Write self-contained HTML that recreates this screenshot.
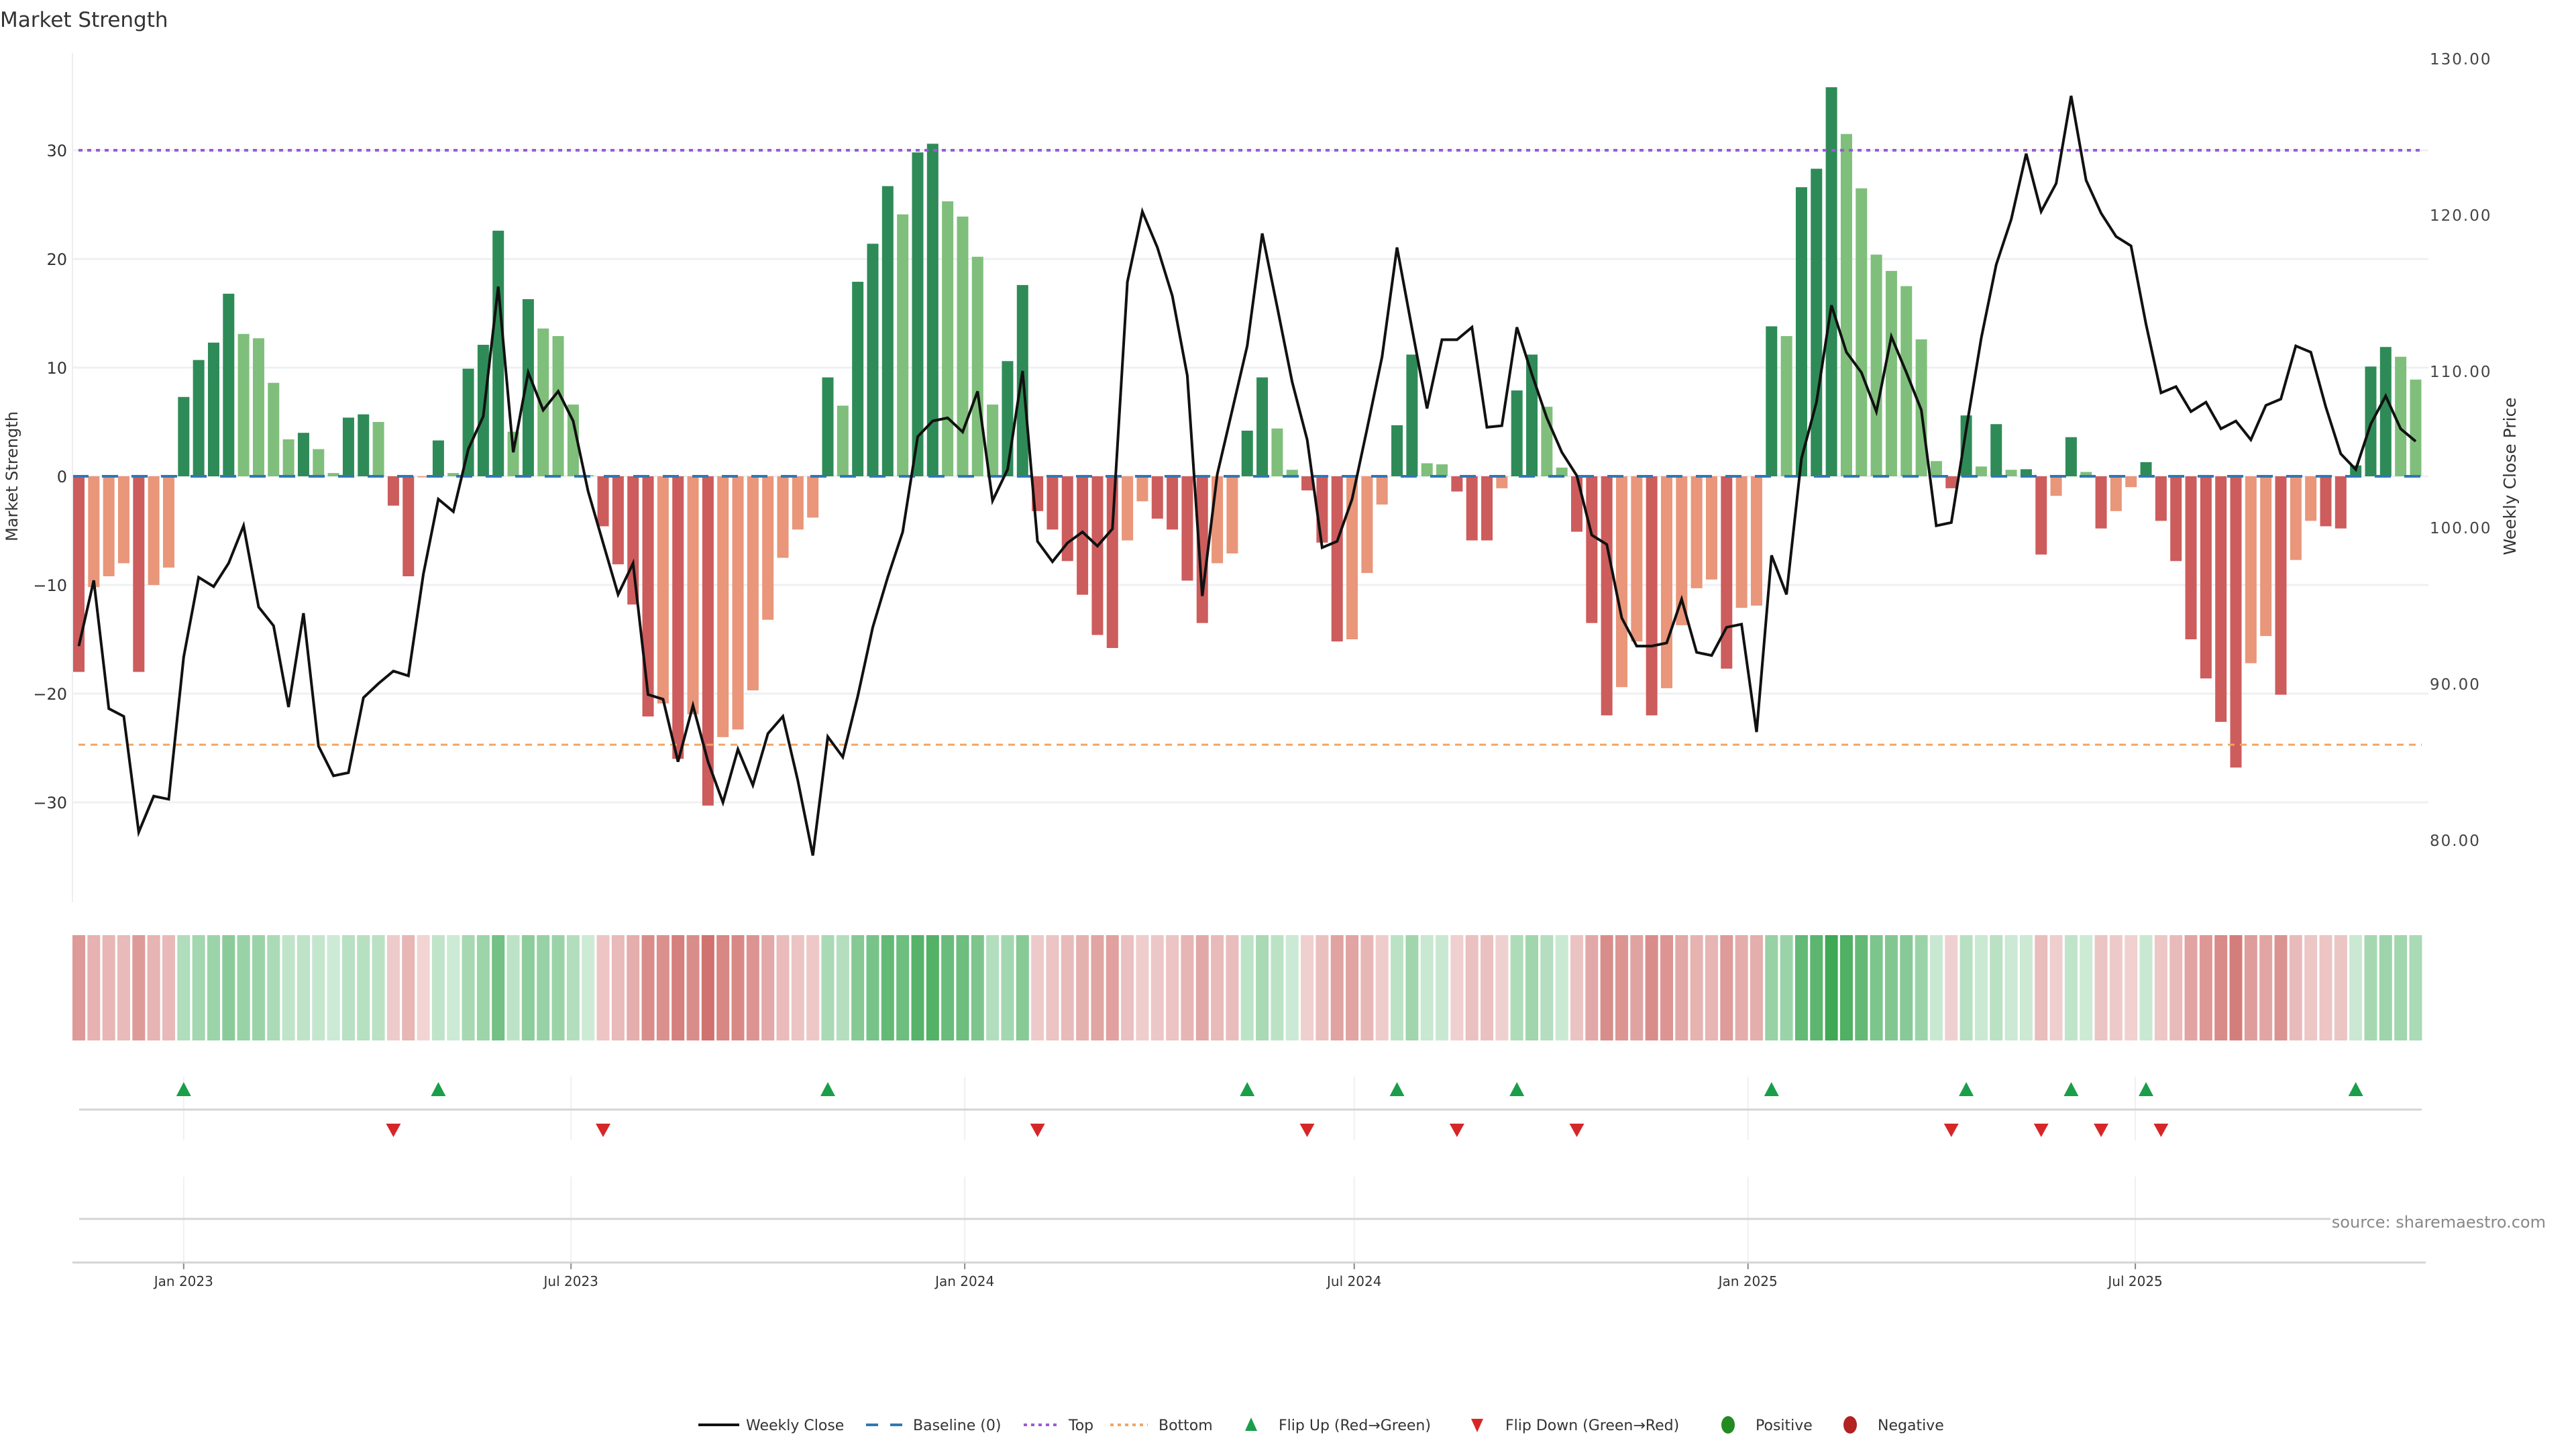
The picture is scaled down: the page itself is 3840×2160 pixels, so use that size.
<!DOCTYPE html>
<html><head><meta charset="utf-8"><title>Market Strength</title>
<style>
html,body{margin:0;padding:0;background:#fff;}
svg{display:block;font-family:"DejaVu Sans","Liberation Sans",sans-serif;}
</style></head>
<body>
<svg id="chart" width="3840" height="2160" viewBox="0 0 3840 2160" xmlns="http://www.w3.org/2000/svg">
<text x="0" y="40" font-size="31" fill="#333">Market Strength</text>
<g id="grid"></g>
<g id="lower"></g>
<g id="bars"></g>
<g id="refs"></g>
<g id="price"></g>
<g id="heat"></g>
<g id="flips"></g>
<g id="axes"></g>
<text transform="translate(26,710) rotate(-90)" text-anchor="middle" font-size="24" fill="#333">Market Strength</text>
<text transform="translate(3750,710) rotate(-90)" text-anchor="middle" font-size="25" fill="#333">Weekly Close Price</text>
<text x="3795" y="1830" text-anchor="end" font-size="24" fill="#888">source: sharemaestro.com</text>
<g id="legend"></g>
</svg>
<script>
const strength = [-18,-10.2,-9.2,-8,-18,-10,-8.4,7.3,10.7,12.3,16.8,13.1,12.7,8.6,3.4,4.0,2.5,0.3,5.4,5.7,
5.0,-2.7,-9.2,-0.1,3.3,0.3,9.9,12.1,22.6,4.1,16.3,13.6,12.9,6.6,0.1,-4.6,-8.1,-11.8,-22.1,-20.9,
-26.0,-21.9,-30.3,-24.0,-23.3,-19.7,-13.2,-7.5,-4.9,-3.8,9.1,6.5,17.9,21.4,26.7,24.1,29.8,30.6,25.3,23.9,
20.2,6.6,10.6,17.6,-3.2,-4.9,-7.8,-10.9,-14.6,-15.8,-5.9,-2.3,-3.9,-4.9,-9.6,-13.5,-8.0,-7.1,4.2,9.1,
4.4,0.6,-1.3,-6.1,-15.2,-15.0,-8.9,-2.6,4.7,11.2,1.2,1.1,-1.4,-5.9,-5.9,-1.1,7.9,11.2,6.4,0.8,
-5.1,-13.5,-22.0,-19.4,-15.2,-22.0,-19.5,-13.7,-10.3,-9.5,-17.7,-12.1,-11.9,13.8,12.9,26.6,28.3,35.8,31.5,26.5,
20.4,18.9,17.5,12.6,1.4,-1.1,5.6,0.9,4.8,0.6,0.65,-7.2,-1.8,3.6,0.4,-4.8,-3.2,-1.0,1.3,-4.1,
-7.8,-15.0,-18.6,-22.6,-26.8,-17.2,-14.7,-20.1,-7.7,-4.1,-4.6,-4.8,1.0,10.1,11.9,11.0,8.9];
const closes = [92.4,96.6,88.4,87.9,80.5,82.8,82.6,91.7,96.8,96.2,97.7,100.1,94.9,93.7,88.5,94.5,86.0,84.1,84.3,89.1,
90.0,90.8,90.5,97.0,101.8,101.0,105.0,107.1,115.4,104.8,109.9,107.5,108.7,106.8,102.3,99.0,95.7,97.7,89.3,89.0,
85.0,88.6,85.0,82.4,85.8,83.5,86.8,87.9,83.8,79.0,86.6,85.3,89.2,93.6,96.8,99.7,105.8,106.8,107.0,106.1,
108.7,101.7,103.7,110.0,99.1,97.8,99.0,99.7,98.8,99.9,115.7,120.2,117.9,114.8,109.7,95.6,103.4,107.5,111.6,118.8,
114.1,109.3,105.6,98.7,99.1,101.8,106.3,110.9,117.9,112.7,107.6,112.0,112.0,112.8,106.4,106.5,112.8,109.8,107.0,104.8,
103.3,99.5,98.9,94.2,92.4,92.4,92.6,95.4,92.0,91.8,93.6,93.8,86.9,98.2,95.7,104.4,108.0,114.2,111.2,109.9,
107.4,112.2,109.9,107.5,100.1,100.3,106.3,112.1,116.8,119.7,123.9,120.2,122.0,127.6,122.2,120.1,118.6,118.0,113.0,108.6,
109.0,107.4,108.0,106.3,106.8,105.6,107.8,108.2,111.6,111.2,107.7,104.7,103.7,106.6,108.4,106.3,105.5];
const leftTicks = [30,20,10,0,-10,-20,-30];
const rightTicks = [130,120,110,100,90,80];
const dateTicks = ["2023-01-01","2023-07-01","2024-01-01","2024-07-01","2025-01-01","2025-07-01"];
const dateLabels = ["Jan 2023","Jul 2023","Jan 2024","Jul 2024","Jan 2025","Jul 2025"];
const topLevel = 30;
const bottomLevel = -24.7;
const firstWeek = "2022-11-13";

const NS="http://www.w3.org/2000/svg";
function mk(tag, attrs, parent){const e=document.createElementNS(NS,tag);for(const k in attrs)e.setAttribute(k,attrs[k]);parent.appendChild(e);return e;}
const X0=117.5, STEP=22.33, PL=108, PR=3620;
const xIdx=i=>X0+i*STEP;
const yL=v=>710-v*16.2;
const yR=p=>87+(130-p)*23.3;
const dayMs=86400000;
const xDate=s=>xIdx((Date.parse(s)-Date.parse(firstWeek))/dayMs/7);

const grid=document.getElementById('grid');
leftTicks.forEach(t=>{
  const l=mk('line',{x1:PL,x2:PR,y1:yL(t),y2:yL(t),stroke:'#eef0f2','stroke-width':3},grid);
  
  
});
const axes=document.getElementById('axes');
mk('line',{x1:PL,x2:PL,y1:79,y2:1345,stroke:'#eceef0','stroke-width':2},axes);
leftTicks.forEach(t=>{
  const tx=mk('text',{x:100,y:yL(t)+9,'text-anchor':'end','font-size':24,fill:'#333'},axes);
  tx.textContent=(t<0?'\u2212':'')+Math.abs(t);
  
  
});
rightTicks.forEach(t=>{
  const tx=mk('text',{x:3622,y:yR(t)+9,'font-size':23,fill:'#444','letter-spacing':'2'},axes);
  tx.textContent=t.toFixed(2);
  
  
});

const bars=document.getElementById('bars');
strength.forEach((v,i)=>{
  const prev=i>0?strength[i-1]:0;
  let c;
  if(v>=0) c=(v>=prev)?'#2e8b57':'#7fbf7b';
  else c=(v<=prev)?'#cd5c5c':'#e9967a';
  const y0=yL(0), y1=yL(v);
  const r=mk('rect',{x:xIdx(i)-8.5,y:Math.min(y0,y1),width:17,height:Math.max(Math.abs(y1-y0),1),fill:c},bars);
  
  
});

const refs=document.getElementById('refs');
const bl=mk('line',{x1:PL,x2:PR,y1:yL(0),y2:yL(0),stroke:'#2f78b5','stroke-width':4,'stroke-dasharray':'24 20'},refs);


const tl=mk('line',{x1:117,x2:3610,y1:yL(topLevel),y2:yL(topLevel),stroke:'#9b59d6','stroke-width':4,'stroke-dasharray':'6 7'},refs);


const bo=mk('line',{x1:117,x2:3610,y1:yL(bottomLevel),y2:yL(bottomLevel),stroke:'#f4a460','stroke-width':3,'stroke-dasharray':'10 8'},refs);



const price=document.getElementById('price');
const pl=mk('polyline',{points:closes.map((p,i)=>xIdx(i).toFixed(1)+','+yR(p).toFixed(1)).join(' '),fill:'none',stroke:'#111','stroke-width':4,'stroke-linejoin':'miter'},price);



const heat=document.getElementById('heat');
function mix(a,b,t){return 'rgb('+a.map((x,k)=>Math.round(x+(b[k]-x)*t)).join(',')+')';}
strength.forEach((v,i)=>{
  const t=Math.min(1,0.08+0.92*Math.abs(v)/36);
  const c=v>=0?mix([218,240,225],[62,168,84],t):mix([244,222,222],[202,96,92],t);
  const r=mk('rect',{x:xIdx(i)-9.5,y:1394,width:19,height:157,fill:c},heat);
  
  
});

const lower=document.getElementById('lower');
dateTicks.forEach(d=>{
  const x=xDate(d);
  mk('line',{x1:x,x2:x,y1:1605,y2:1700,stroke:'#eef0f4','stroke-width':2},lower);
  mk('line',{x1:x,x2:x,y1:1754,y2:1882,stroke:'#eef0f4','stroke-width':2},lower);
  mk('line',{x1:x,x2:x,y1:1882,y2:1892,stroke:'#888','stroke-width':2},lower);
});
mk('line',{x1:118,x2:3610,y1:1654,y2:1654,stroke:'#d4d4d4','stroke-width':3},lower);
mk('line',{x1:118,x2:3474,y1:1817,y2:1817,stroke:'#d4d4d4','stroke-width':3},lower);
mk('line',{x1:108,x2:3616,y1:1882,y2:1882,stroke:'#d4d4d4','stroke-width':3},lower);
dateTicks.forEach((d,k)=>{
  const tx=mk('text',{x:xDate(d),y:1917,'text-anchor':'middle','font-size':20,fill:'#333'},axes);
  tx.textContent=dateLabels[k];
  
  
});

const flips=document.getElementById('flips');
let lastSign=0;
strength.forEach((v,i)=>{
  const s=v>0.2?1:(v<-0.2?-1:0);
  if(s!==0){
    if(lastSign===-1&&s===1){
      const x=xIdx(i);
      const p=mk('polygon',{points:`${x-11},1634 ${x+11},1634 ${x},1613`,fill:'#1a9e4a'},flips);
      
      
    } else if(lastSign===1&&s===-1){
      const x=xIdx(i);
      const p=mk('polygon',{points:`${x-11},1675 ${x+11},1675 ${x},1695`,fill:'#d62728'},flips);
      
      
    }
    lastSign=s;
  }
});

const lg=document.getElementById('legend');
const LY=2124;
function ltext(x,t){const e=mk('text',{x:x,y:LY+8,'font-size':22,fill:'#333'},lg);e.textContent=t;}
mk('line',{x1:1041,x2:1102,y1:LY,y2:LY,stroke:'#111','stroke-width':4},lg); ltext(1112,'Weekly Close');
mk('line',{x1:1291,x2:1345,y1:LY,y2:LY,stroke:'#2f78b5','stroke-width':4,'stroke-dasharray':'18 18'},lg); ltext(1361,'Baseline (0)');
mk('line',{x1:1526,x2:1581,y1:LY,y2:LY,stroke:'#9b59d6','stroke-width':4,'stroke-dasharray':'5 6'},lg); ltext(1593,'Top');
mk('line',{x1:1655,x2:1711,y1:LY,y2:LY,stroke:'#f4a460','stroke-width':4,'stroke-dasharray':'5 6'},lg); ltext(1727,'Bottom');
mk('polygon',{points:`1856,${LY+9} 1874,${LY+9} 1865,${LY-11}`,fill:'#1a9e4a'},lg); ltext(1906,'Flip Up (Red\u2192Green)');
mk('polygon',{points:`2193,${LY-9} 2211,${LY-9} 2202,${LY+11}`,fill:'#d62728'},lg); ltext(2244,'Flip Down (Green\u2192Red)');
mk('ellipse',{cx:2576,cy:LY,rx:10,ry:13,fill:'#228b22'},lg); ltext(2617,'Positive');
mk('ellipse',{cx:2758,cy:LY,rx:10,ry:13,fill:'#b22222'},lg); ltext(2799,'Negative');
</script>
</body></html>
